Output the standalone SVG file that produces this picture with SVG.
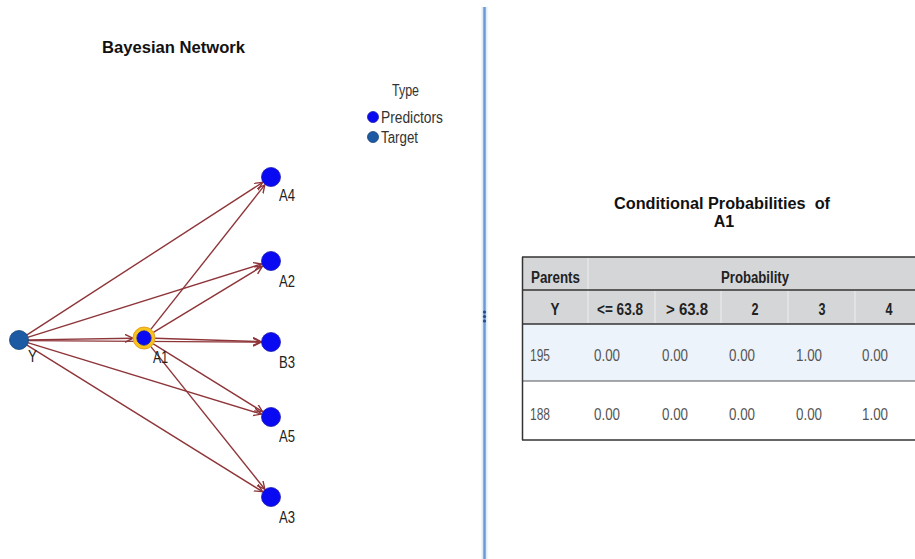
<svg xmlns="http://www.w3.org/2000/svg" width="915" height="559" viewBox="0 0 915 559">
  <style>
    .title { font-family: "Liberation Sans", Arial, sans-serif; font-weight: bold; fill: #111; }
    .lbl { font-family: "Liberation Sans", Arial, sans-serif; font-size: 16px; fill: #222; }
    .legend { font-family: "Liberation Sans", Arial, sans-serif; font-size: 16px; fill: #333; }
    .edge { stroke: #8e3539; stroke-width: 1.4; fill: none; marker-end: url(#arrow); }
    .pred { fill: #0a0af2; stroke: #1a1ab0; stroke-width: 0.8; }
    .target { fill: #1c5aa3; stroke: #17457a; stroke-width: 0.8; }
    .th { font-family: "Liberation Sans", Arial, sans-serif; font-weight: bold; font-size: 16px; fill: #222; }
    .td { font-family: "Liberation Sans", Arial, sans-serif; font-size: 16px; fill: #555; }
    .rule { stroke: #333; stroke-width: 1.5; }
  </style>
  <defs>
    <marker id="arrow" markerUnits="userSpaceOnUse" markerWidth="10" markerHeight="10" refX="8" refY="4" orient="auto">
      <path d="M0,0 L8,4 L0,8" fill="none" stroke="#8e3539" stroke-width="1.4"/>
    </marker>
  </defs>

  <rect width="915" height="559" fill="#ffffff"/>

  <!-- left panel: network -->
  <text class="title" x="102" y="53" font-size="17" textLength="143" lengthAdjust="spacingAndGlyphs">Bayesian Network</text>

  <!-- legend -->
  <g id="legend">
    <text class="legend" x="392" y="96" textLength="27" lengthAdjust="spacingAndGlyphs">Type</text>
    <circle class="pred" cx="373" cy="117" r="5.5"/>
    <text class="legend" x="381" y="123" textLength="62" lengthAdjust="spacingAndGlyphs">Predictors</text>
    <circle class="target" cx="373" cy="137" r="5.5"/>
    <text class="legend" x="381" y="143" textLength="37" lengthAdjust="spacingAndGlyphs">Target</text>
  </g>

  <!-- connectors -->
  <g id="edges">
    <line class="edge" x1="26.6" y1="335.1" x2="262.6" y2="182.4"/>
    <line class="edge" x1="27.6" y1="337.3" x2="261.5" y2="264.0"/>
    <line class="edge" x1="28" y1="339.9" x2="133" y2="338.2"/>
    <line class="edge" x1="28" y1="340.6" x2="261" y2="342.2"/>
    <line class="edge" x1="27.6" y1="342.6" x2="261.4" y2="414.1"/>
    <line class="edge" x1="26.6" y1="344.8" x2="262.5" y2="491.7"/>
    <line class="edge" x1="150.8" y1="329.4" x2="264.8" y2="184.9"/>
    <line class="edge" x1="153.4" y1="332.3" x2="262.4" y2="266.2"/>
    <line class="edge" x1="155" y1="338.3" x2="261" y2="341.7"/>
    <line class="edge" x1="153.3" y1="343.8" x2="262.5" y2="411.7"/>
    <line class="edge" x1="150.9" y1="346.6" x2="264.8" y2="489.2"/>
  </g>

  <!-- nodes -->
  <g id="node-Y">
    <circle class="target" cx="19" cy="340" r="9.5"/>
    <text class="lbl" x="28" y="362" textLength="9" lengthAdjust="spacingAndGlyphs">Y</text>
  </g>
  <g id="node-A1">
    <circle cx="144" cy="338" r="11" fill="#f6c21c" stroke="#e8a020" stroke-width="1"/>
    <circle class="pred" cx="144" cy="338" r="7.2"/>
    <text class="lbl" x="153" y="363" textLength="15" lengthAdjust="spacingAndGlyphs">A1</text>
  </g>
  <g id="node-A4">
    <circle class="pred" cx="271" cy="177" r="9.5"/>
    <text class="lbl" x="279" y="201" textLength="16" lengthAdjust="spacingAndGlyphs">A4</text>
  </g>
  <g id="node-A2">
    <circle class="pred" cx="271" cy="261" r="9.5"/>
    <text class="lbl" x="279" y="287" textLength="16" lengthAdjust="spacingAndGlyphs">A2</text>
  </g>
  <g id="node-B3">
    <circle class="pred" cx="271" cy="342" r="9.5"/>
    <text class="lbl" x="279" y="368" textLength="16" lengthAdjust="spacingAndGlyphs">B3</text>
  </g>
  <g id="node-A5">
    <circle class="pred" cx="271" cy="417" r="9.5"/>
    <text class="lbl" x="279" y="442" textLength="16" lengthAdjust="spacingAndGlyphs">A5</text>
  </g>
  <g id="node-A3">
    <circle class="pred" cx="271" cy="497" r="9.5"/>
    <text class="lbl" x="279" y="523" textLength="16" lengthAdjust="spacingAndGlyphs">A3</text>
  </g>

  <!-- splitter between panels -->
  <g id="splitter">
    <rect x="481.5" y="7" width="6" height="552" fill="#dcedf7"/>
    <line x1="484.5" y1="7" x2="484.5" y2="559" stroke="#6f98d8" stroke-width="2.5"/>
    <circle cx="484.5" cy="312" r="1.6" fill="#2e4a86"/>
    <circle cx="484.5" cy="316.5" r="1.6" fill="#2e4a86"/>
    <circle cx="484.5" cy="321" r="1.6" fill="#2e4a86"/>
  </g>

  <!-- right panel: probability table -->
  <text class="title" x="722" y="209" font-size="16" text-anchor="middle" xml:space="preserve" textLength="216" lengthAdjust="spacingAndGlyphs">Conditional Probabilities  of</text>
  <text class="title" x="724" y="227" font-size="16" text-anchor="middle">A1</text>

  <g id="cpt-table">
    <rect x="522" y="257" width="400" height="67" fill="#d5d6d8"/>
    <rect x="522" y="324" width="400" height="57" fill="#edf3fb"/>
    <rect x="522" y="381" width="400" height="59" fill="#ffffff"/>
    <!-- faint header separators -->
    <g stroke="#eceef0" stroke-width="1">
      <line x1="588" y1="258" x2="588" y2="323"/>
      <line x1="655" y1="291" x2="655" y2="323"/>
      <line x1="721" y1="291" x2="721" y2="323"/>
      <line x1="788" y1="291" x2="788" y2="323"/>
      <line x1="855" y1="291" x2="855" y2="323"/>
    </g>
    <line class="rule" x1="522" y1="257" x2="915" y2="257"/>
    <line class="rule" x1="522" y1="290" x2="915" y2="290"/>
    <line class="rule" x1="522" y1="324" x2="915" y2="324"/>
    <line x1="522" y1="381" x2="915" y2="381" stroke="#555" stroke-width="1.2"/>
    <line class="rule" x1="522" y1="440" x2="915" y2="440"/>
    <line class="rule" x1="522.5" y1="257" x2="522.5" y2="440"/>

    <text class="th" x="531" y="283" textLength="49" lengthAdjust="spacingAndGlyphs">Parents</text>
    <text class="th" x="755" y="283" text-anchor="middle" textLength="68" lengthAdjust="spacingAndGlyphs">Probability</text>

    <text class="th" x="555" y="315" text-anchor="middle" textLength="9" lengthAdjust="spacingAndGlyphs">Y</text>
    <text class="th" x="620" y="315" text-anchor="middle" textLength="46" lengthAdjust="spacingAndGlyphs">&lt;= 63.8</text>
    <text class="th" x="687" y="315" text-anchor="middle" textLength="42" lengthAdjust="spacingAndGlyphs">&gt; 63.8</text>
    <text class="th" x="755" y="315" text-anchor="middle" textLength="7" lengthAdjust="spacingAndGlyphs">2</text>
    <text class="th" x="822" y="315" text-anchor="middle" textLength="7" lengthAdjust="spacingAndGlyphs">3</text>
    <text class="th" x="889" y="315" text-anchor="middle" textLength="7" lengthAdjust="spacingAndGlyphs">4</text>

    <text class="td" x="530" y="361" textLength="20" lengthAdjust="spacingAndGlyphs">195</text>
    <text class="td" x="594" y="361" textLength="26" lengthAdjust="spacingAndGlyphs">0.00</text>
    <text class="td" x="662" y="361" textLength="26" lengthAdjust="spacingAndGlyphs">0.00</text>
    <text class="td" x="729" y="361" textLength="26" lengthAdjust="spacingAndGlyphs">0.00</text>
    <text class="td" x="796" y="361" textLength="26" lengthAdjust="spacingAndGlyphs">1.00</text>
    <text class="td" x="862" y="361" textLength="26" lengthAdjust="spacingAndGlyphs">0.00</text>

    <text class="td" x="530" y="420" textLength="20" lengthAdjust="spacingAndGlyphs">188</text>
    <text class="td" x="594" y="420" textLength="26" lengthAdjust="spacingAndGlyphs">0.00</text>
    <text class="td" x="662" y="420" textLength="26" lengthAdjust="spacingAndGlyphs">0.00</text>
    <text class="td" x="729" y="420" textLength="26" lengthAdjust="spacingAndGlyphs">0.00</text>
    <text class="td" x="796" y="420" textLength="26" lengthAdjust="spacingAndGlyphs">0.00</text>
    <text class="td" x="862" y="420" textLength="26" lengthAdjust="spacingAndGlyphs">1.00</text>
  </g>
</svg>
